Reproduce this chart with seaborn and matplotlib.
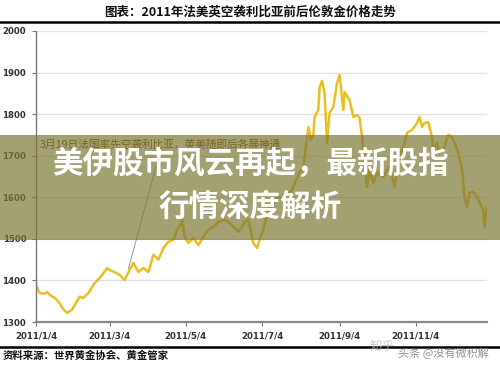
import matplotlib
matplotlib.use("Agg")
import matplotlib.pyplot as plt
from matplotlib.patches import Rectangle
from matplotlib.lines import Line2D
import pandas as pd
import seaborn as sns

# ================= Data =================
dates = [
    "2011-01-04", "2011-01-06", "2011-01-07", "2011-01-10", "2011-01-13", "2011-01-15",
    "2011-01-19", "2011-01-22", "2011-01-26", "2011-01-29", "2011-02-02", "2011-02-04",
    "2011-02-08", "2011-02-11", "2011-02-15", "2011-02-20", "2011-02-24", "2011-03-02",
    "2011-03-04", "2011-03-08", "2011-03-12", "2011-03-16", "2011-03-19", "2011-03-23",
    "2011-03-27", "2011-03-31", "2011-04-04", "2011-04-08", "2011-04-12", "2011-04-16",
    "2011-04-20", "2011-04-24", "2011-04-27", "2011-04-29", "2011-05-01", "2011-05-03",
    "2011-05-06", "2011-05-10", "2011-05-14", "2011-05-18", "2011-05-22", "2011-05-26",
    "2011-05-30", "2011-06-04", "2011-06-08", "2011-06-12", "2011-06-15", "2011-06-18",
    "2011-06-20", "2011-06-23", "2011-06-27", "2011-06-30", "2011-07-02", "2011-07-05",
    "2011-07-06", "2011-07-09", "2011-07-13", "2011-07-17", "2011-07-21", "2011-07-25",
    "2011-07-28", "2011-07-31", "2011-08-03", "2011-08-06", "2011-08-08", "2011-08-10",
    "2011-08-12", "2011-08-14", "2011-08-15", "2011-08-18", "2011-08-19", "2011-08-21",
    "2011-08-23", "2011-08-25", "2011-08-27", "2011-08-30", "2011-09-02", "2011-09-04",
    "2011-09-07", "2011-09-08", "2011-09-12", "2011-09-15", "2011-09-18", "2011-09-20",
    "2011-09-22", "2011-09-24", "2011-09-26", "2011-09-28", "2011-10-01", "2011-10-04",
    "2011-10-09", "2011-10-14", "2011-10-18", "2011-10-21", "2011-10-25", "2011-10-28",
    "2011-11-01", "2011-11-05", "2011-11-07", "2011-11-09", "2011-11-11", "2011-11-14",
    "2011-11-17", "2011-11-18", "2011-11-21", "2011-11-23", "2011-11-26", "2011-11-30",
    "2011-12-03", "2011-12-05", "2011-12-08", "2011-12-11", "2011-12-13", "2011-12-15",
    "2011-12-17", "2011-12-20", "2011-12-23", "2011-12-25", "2011-12-28", "2011-12-29",
    "2011-12-31",
]
prices = [
    1390, 1375, 1370, 1368, 1372, 1365,
    1358, 1349, 1330, 1322, 1330, 1341,
    1361, 1358, 1370, 1394, 1406, 1430,
    1425, 1420, 1413, 1401, 1420, 1442,
    1420, 1430, 1420, 1462, 1450, 1478,
    1493, 1498, 1522, 1529, 1545, 1505,
    1490, 1502, 1485, 1505, 1522, 1529,
    1541, 1546, 1538, 1526, 1517, 1529,
    1541, 1546, 1490, 1478, 1498, 1522,
    1538, 1570, 1587, 1601, 1595, 1610,
    1618, 1640, 1659, 1673, 1720, 1769,
    1738, 1750, 1793, 1810, 1865, 1880,
    1850, 1731, 1803, 1817, 1875, 1894,
    1810, 1853, 1834, 1793, 1798, 1791,
    1745, 1680, 1625, 1666, 1634, 1659,
    1649, 1673, 1625, 1690, 1721, 1755,
    1762, 1779, 1793, 1769, 1779, 1781,
    1745, 1714, 1731, 1707, 1714, 1750,
    1745, 1731, 1707, 1666, 1601, 1575,
    1611, 1613, 1601, 1587, 1570, 1529,
    1577,
]
tick_dates = ["2011-01-04", "2011-03-04", "2011-05-04", "2011-07-04", "2011-09-04", "2011-11-04"]
tick_labels = ["2011/1/4", "2011/3/4", "2011/5/4", "2011/7/4", "2011/9/4", "2011/11/4"]
y_ticks = [1300, 1400, 1500, 1600, 1700, 1800, 1900, 2000]

TITLE = "图表：2011年法美英空袭利比亚前后伦敦金价格走势"
SOURCE = "资料来源：世界黄金协会、黄金管家"
NOTE = "3月19日法国率先空袭利比亚，英美随即后各展神通"
NOTE_DATE, NOTE_PRICE = "2011-03-19", 1428
BANNER_1 = "美伊股市风云再起，最新股指"
BANNER_2 = "行情深度解析"

# ================= Style =================
sns.set_theme(style="white")
plt.rcParams["font.family"] = ["Noto Sans CJK SC", "DejaVu Sans"]

W, H = 500, 367
fig = plt.figure(figsize=(5, 3.67), dpi=100)
fig.patch.set_facecolor("white")

def fx(px):
    return px / W

def fy(py):
    return 1 - py / H

ax = fig.add_axes([fx(36), fy(322), fx(487 - 36), (322 - 31) / H])

df = pd.DataFrame({"date": pd.to_datetime(dates), "price": prices})
sns.lineplot(data=df, x="date", y="price", ax=ax, color="#e8c020", linewidth=1.8)

ax.set_xlim(pd.Timestamp("2011-01-04"), pd.Timestamp("2011-12-31"))
ax.set_ylim(1300, 2000)
ax.set_yticks(y_ticks)
ax.set_yticklabels([str(v) for v in y_ticks], fontsize=6.2, fontweight="bold", color="#333333",
                   family="DejaVu Sans")
ax.set_xticks(pd.to_datetime(tick_dates))
ax.set_xticklabels(tick_labels, fontsize=6.2, fontweight="bold", color="#333333",
                   family="DejaVu Sans")
ax.set_xlabel("")
ax.set_ylabel("")
ax.grid(axis="y", color="#e2e2e2", linewidth=1)
ax.tick_params(axis="both", length=3, width=0.8, color="#777777", pad=4, bottom=True, left=True)
for s in ["top", "right"]:
    ax.spines[s].set_visible(False)
ax.spines["left"].set_color("#777777")
ax.spines["left"].set_linewidth(1)
ax.spines["bottom"].set_color("#888888")
ax.spines["bottom"].set_linewidth(1.6)

ax.annotate(NOTE, xy=(pd.Timestamp(NOTE_DATE), NOTE_PRICE),
            xytext=(pd.Timestamp("2011-01-07"), 1726),
            fontsize=7.7, color="#6e3600", ha="left", va="center",
            arrowprops=dict(arrowstyle="-", color="#888888", lw=0.6,
                            relpos=(0.5, 0), shrinkA=0, shrinkB=0))

# header / footer
fig.text(0.5, fy(12), TITLE, ha="center", va="center", fontsize=9, fontweight="bold", color="#111111")
fig.add_artist(Line2D([0, 1], [fy(22), fy(22)], color="black", linewidth=1.8))
fig.add_artist(Line2D([0, 1], [fy(347), fy(347)], color="black", linewidth=1.8))
fig.text(fx(3), fy(356), SOURCE, ha="left", va="center", fontsize=7.5, fontweight="bold", color="#111111")
fig.text(fx(370), fy(346), "知乎", ha="left", va="center", fontsize=9, color="#bbbbbb", alpha=0.8)
fig.text(fx(398), fy(353), "头条 @没有微积解", ha="left", va="center", fontsize=8, color="#777777", alpha=0.8)

# overlay banner
fig.add_artist(Rectangle((0, fy(240)), 1, (240 - 135) / H, transform=fig.transFigure,
                         facecolor="#7d7835", alpha=0.7, edgecolor="none", zorder=5))
fig.text(0.5, fy(164), BANNER_1, ha="center", va="center", fontsize=22, fontweight="bold",
         color="white", zorder=6)
fig.text(0.5, fy(207), BANNER_2, ha="center", va="center", fontsize=22, fontweight="bold",
         color="white", zorder=6)

fig.savefig("out.png", dpi=100)
